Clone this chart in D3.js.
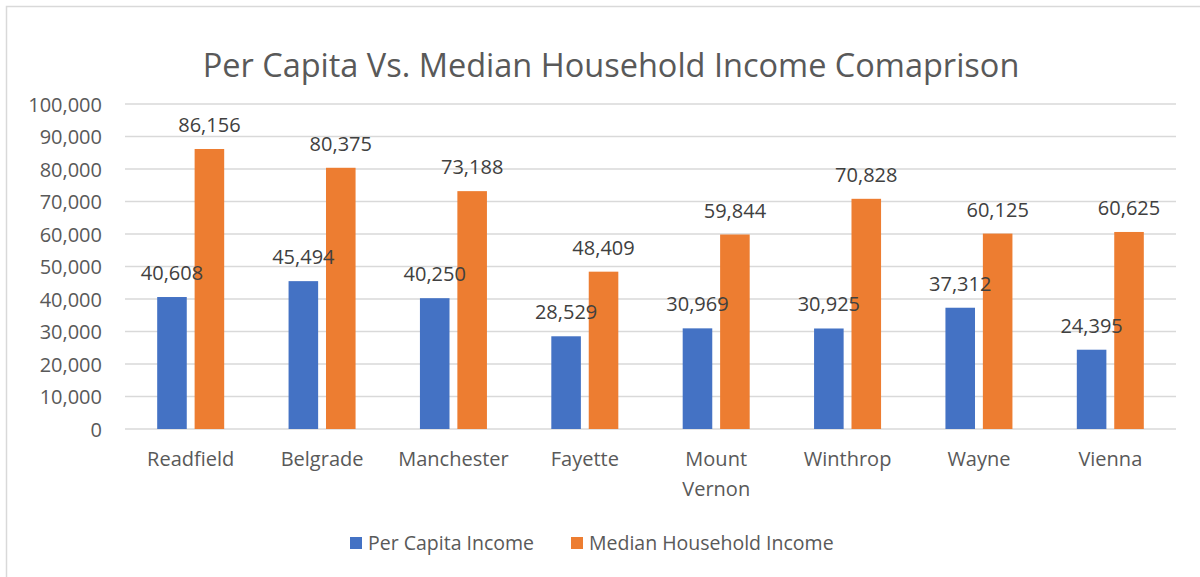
<!DOCTYPE html>
<html>
<head>
<meta charset="utf-8">
<script src="https://cdn.jsdelivr.net/npm/d3@7"></script>
<style>
  body { margin: 0; background: #fff; }
  text { font-family: "Open Sans", sans-serif; fill: #595959; }
</style>
</head>
<body>
<div id="chart"></div>
<script>
var towns = ['Readfield', 'Belgrade', 'Manchester', 'Fayette', 'Mount Vernon', 'Winthrop', 'Wayne', 'Vienna'];
var seriesNames = ['Per Capita Income', 'Median Household Income'];
var perCapita = [40608, 45494, 40250, 28529, 30969, 30925, 37312, 24395];
var medianHousehold = [86156, 80375, 73188, 48409, 59844, 70828, 60125, 60625];
var yTicks = [0, 10000, 20000, 30000, 40000, 50000, 60000, 70000, 80000, 90000, 100000];

var width = 1200, height = 577;
var color = d3.scaleOrdinal().domain(seriesNames).range(['#4472C4', '#ED7D31']);

var margin = {left: 125, right: 24, top: 104, bottom: 148};

var svg = d3.select('#chart').append('svg')
  .attr('width', width)
  .attr('height', height);

// chart border (right/bottom edges fall outside the picture)
svg.append('rect')
  .attr('x', 6.5).attr('y', 6.5)
  .attr('width', width + 10).attr('height', height + 10)
  .attr('fill', 'none')
  .attr('stroke', '#d9d9d9')
  .attr('stroke-width', 1.5);

svg.append('text')
  .attr('x', 611)
  .attr('y', 77)
  .attr('text-anchor', 'middle')
  .style('font-size', '32.5px')
  .text('Per Capita Vs. Median Household Income Comaprison');

var x0 = d3.scaleBand()
  .domain(towns)
  .range([margin.left, width - margin.right])
  .padding(0);

var x1 = d3.scaleBand()
  .domain(seriesNames)
  .range([-33.5, 33.5])
  .paddingInner(0.21);

var y = d3.scaleLinear()
  .domain([0, 100000])
  .range([height - margin.bottom, margin.top]);

// gridlines
svg.append('g')
  .selectAll('line')
  .data(yTicks)
  .enter().append('line')
  .attr('x1', margin.left)
  .attr('x2', width - margin.right)
  .attr('y1', function(d) { return y(d); })
  .attr('y2', function(d) { return y(d); })
  .attr('stroke', '#d9d9d9')
  .attr('stroke-width', 1.5);

// y axis labels
var yAxis = d3.axisLeft(y)
  .tickValues(yTicks)
  .tickFormat(d3.format(','))
  .tickSize(0)
  .tickPadding(0);

var yg = svg.append('g')
  .attr('transform', 'translate(102,0)')
  .call(yAxis);
yg.select('.domain').remove();
yg.selectAll('text')
  .style('font-size', '20px')
  .attr('dy', '0.35em');

// x axis labels
var xAxis = d3.axisBottom(x0).tickSize(0).tickPadding(0);
var xg = svg.append('g')
  .attr('transform', 'translate(0,' + (height - margin.bottom) + ')')
  .call(xAxis);
xg.select('.domain').remove();
xg.selectAll('text')
  .style('font-size', '20px')
  .attr('y', 37)
  .attr('dy', 0)
  .each(function(d) {
    var words = d.split(' ');
    if (words.length > 1) {
      var t = d3.select(this).text(null);
      words.forEach(function(w, i) {
        t.append('tspan')
          .attr('x', 0)
          .attr('dy', i === 0 ? 0 : 30)
          .text(w);
      });
    }
  });

var rows = towns.map(function(t, i) {
  return {town: t, values: [
    {name: seriesNames[0], value: perCapita[i]},
    {name: seriesNames[1], value: medianHousehold[i]}
  ]};
});

var groups = svg.selectAll('.group')
  .data(rows)
  .enter().append('g')
  .attr('class', 'group')
  .attr('transform', function(d) {
    return 'translate(' + (x0(d.town) + x0.bandwidth() / 2) + ',0)';
  });

groups.selectAll('rect')
  .data(function(d) { return d.values; })
  .enter().append('rect')
  .attr('x', function(d) { return x1(d.name); })
  .attr('width', x1.bandwidth())
  .attr('y', function(d) { return y(d.value); })
  .attr('height', function(d) { return y(0) - y(d.value); })
  .attr('fill', function(d) { return color(d.name); });

groups.selectAll('.label')
  .data(function(d) { return d.values; })
  .enter().append('text')
  .attr('class', 'label')
  .attr('x', function(d) { return x1(d.name) + x1.bandwidth() / 2; })
  .attr('y', function(d) { return y(d.value) - 17; })
  .attr('text-anchor', 'middle')
  .style('font-size', '20px')
  .style('fill', '#404040')
  .text(function(d) { return d3.format(',')(d.value); });

// legend
var legendX = [350, 571];
var legend = svg.selectAll('.legend')
  .data(seriesNames)
  .enter().append('g')
  .attr('class', 'legend')
  .attr('transform', function(d, i) { return 'translate(' + legendX[i] + ',537)'; });

legend.append('rect')
  .attr('width', 12)
  .attr('height', 12)
  .attr('fill', function(d) { return color(d); });

legend.append('text')
  .attr('x', 18)
  .attr('y', 6)
  .attr('dy', '0.35em')
  .style('font-size', '19.5px')
  .text(function(d) { return d; });
</script>
</body>
</html>
